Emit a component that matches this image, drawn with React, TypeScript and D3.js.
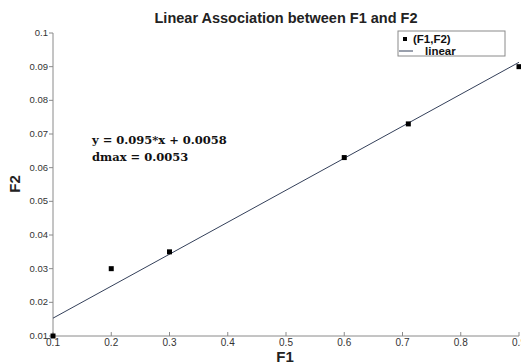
import React from "react";
import * as d3 from "d3";

const f1Values = [0.1, 0.2, 0.3, 0.6, 0.71, 0.9];
const f2Values = [0.01, 0.03, 0.035, 0.063, 0.073, 0.09];
const slope = 0.095;
const intercept = 0.0058;
const xTicks = [0.1, 0.2, 0.3, 0.4, 0.5, 0.6, 0.7, 0.8, 0.9];
const yTicks = [0.01, 0.02, 0.03, 0.04, 0.05, 0.06, 0.07, 0.08, 0.09, 0.1];
const titleText = "Linear Association between F1 and F2";
const equationText = "y = 0.095*x + 0.0058";
const dmaxText = "dmax = 0.0053";
const legendLabels = ["(F1,F2)", "linear"];

export default function App() {
  const W = 521, H = 364;
  const x = d3.scaleLinear().domain([0.1, 0.9]).range([53, 519]);
  const y = d3.scaleLinear().domain([0.01, 0.1]).range([336, 33]);
  const fitLine = d3.line<number>().x((d) => x(d)).y((d) => y(slope * d + intercept));
  const axisColor = "#8a8a8a";
  const lineColor = "#34405a";
  const sans = "'Liberation Sans', Arial, sans-serif";
  const serif = "'DejaVu Serif', 'Liberation Serif', serif";
  return (
    <svg width={W} height={H} style={{ position: "absolute", left: 0, top: 0, background: "#fff" }}>
      <rect x={0} y={0} width={W} height={H} fill="#fff" />
      <text x={286} y={23} textAnchor="middle" fontFamily={sans} fontWeight="bold" fontSize={14.5} fill="#222">
        {titleText}
      </text>
      <line x1={x(0.1)} x2={x(0.9)} y1={y(0.01)} y2={y(0.01)} stroke={axisColor} strokeWidth={1} />
      <line x1={x(0.1)} x2={x(0.1)} y1={y(0.01)} y2={y(0.1)} stroke={axisColor} strokeWidth={1} />
      {xTicks.map((t) => (
        <g key={"x" + t}>
          <line x1={x(t)} x2={x(t)} y1={y(0.01)} y2={y(0.01) - 4} stroke={axisColor} />
          <text x={x(t)} y={346} textAnchor="middle" fontFamily={sans} fontSize={10} fill="#333">
            {d3.format(".1f")(t)}
          </text>
        </g>
      ))}
      {yTicks.map((t) => (
        <g key={"y" + t}>
          <line x1={x(0.1) - 4} x2={x(0.1)} y1={y(t)} y2={y(t)} stroke={axisColor} />
          <text x={48} y={y(t) + 3} textAnchor="end" fontFamily={sans} fontSize={9.5} fill="#333">
            {t === 0.1 ? "0.1" : d3.format(".2f")(t)}
          </text>
        </g>
      ))}
      <text x={285} y={362} textAnchor="middle" fontFamily={sans} fontWeight="bold" fontSize={15} fill="#222">F1</text>
      <text transform={`translate(20,184) rotate(-90)`} textAnchor="middle" fontFamily={sans} fontWeight="bold" fontSize={15} fill="#222">F2</text>
      <path d={fitLine([0.1, 0.9]) || ""} fill="none" stroke={lineColor} strokeWidth={1} />
      {f1Values.map((v, i) => (
        <rect key={"p" + i} x={x(v) - 2.5} y={y(f2Values[i]) - 2.5} width={5} height={5} fill="#000" />
      ))}
      <text x={92} y={144} fontFamily={serif} fontWeight="bold" fontSize={11.5} fill="#111">{equationText}</text>
      <text x={92} y={161} fontFamily={serif} fontWeight="bold" fontSize={11.5} fill="#111">{dmaxText}</text>
      <rect x={398} y={31} width={107} height={25} fill="#fff" stroke={axisColor} strokeWidth={1} />
      <rect x={403} y={37} width={4} height={4} fill="#000" />
      <text x={413} y={43} fontFamily={sans} fontWeight="bold" fontSize={11.5} fill="#111">{legendLabels[0]}</text>
      <line x1={399} x2={413} y1={51} y2={51} stroke={lineColor} strokeWidth={1} />
      <text x={425} y={55} fontFamily={sans} fontWeight="bold" fontSize={11.5} fill="#111">{legendLabels[1]}</text>
    </svg>
  );
}
